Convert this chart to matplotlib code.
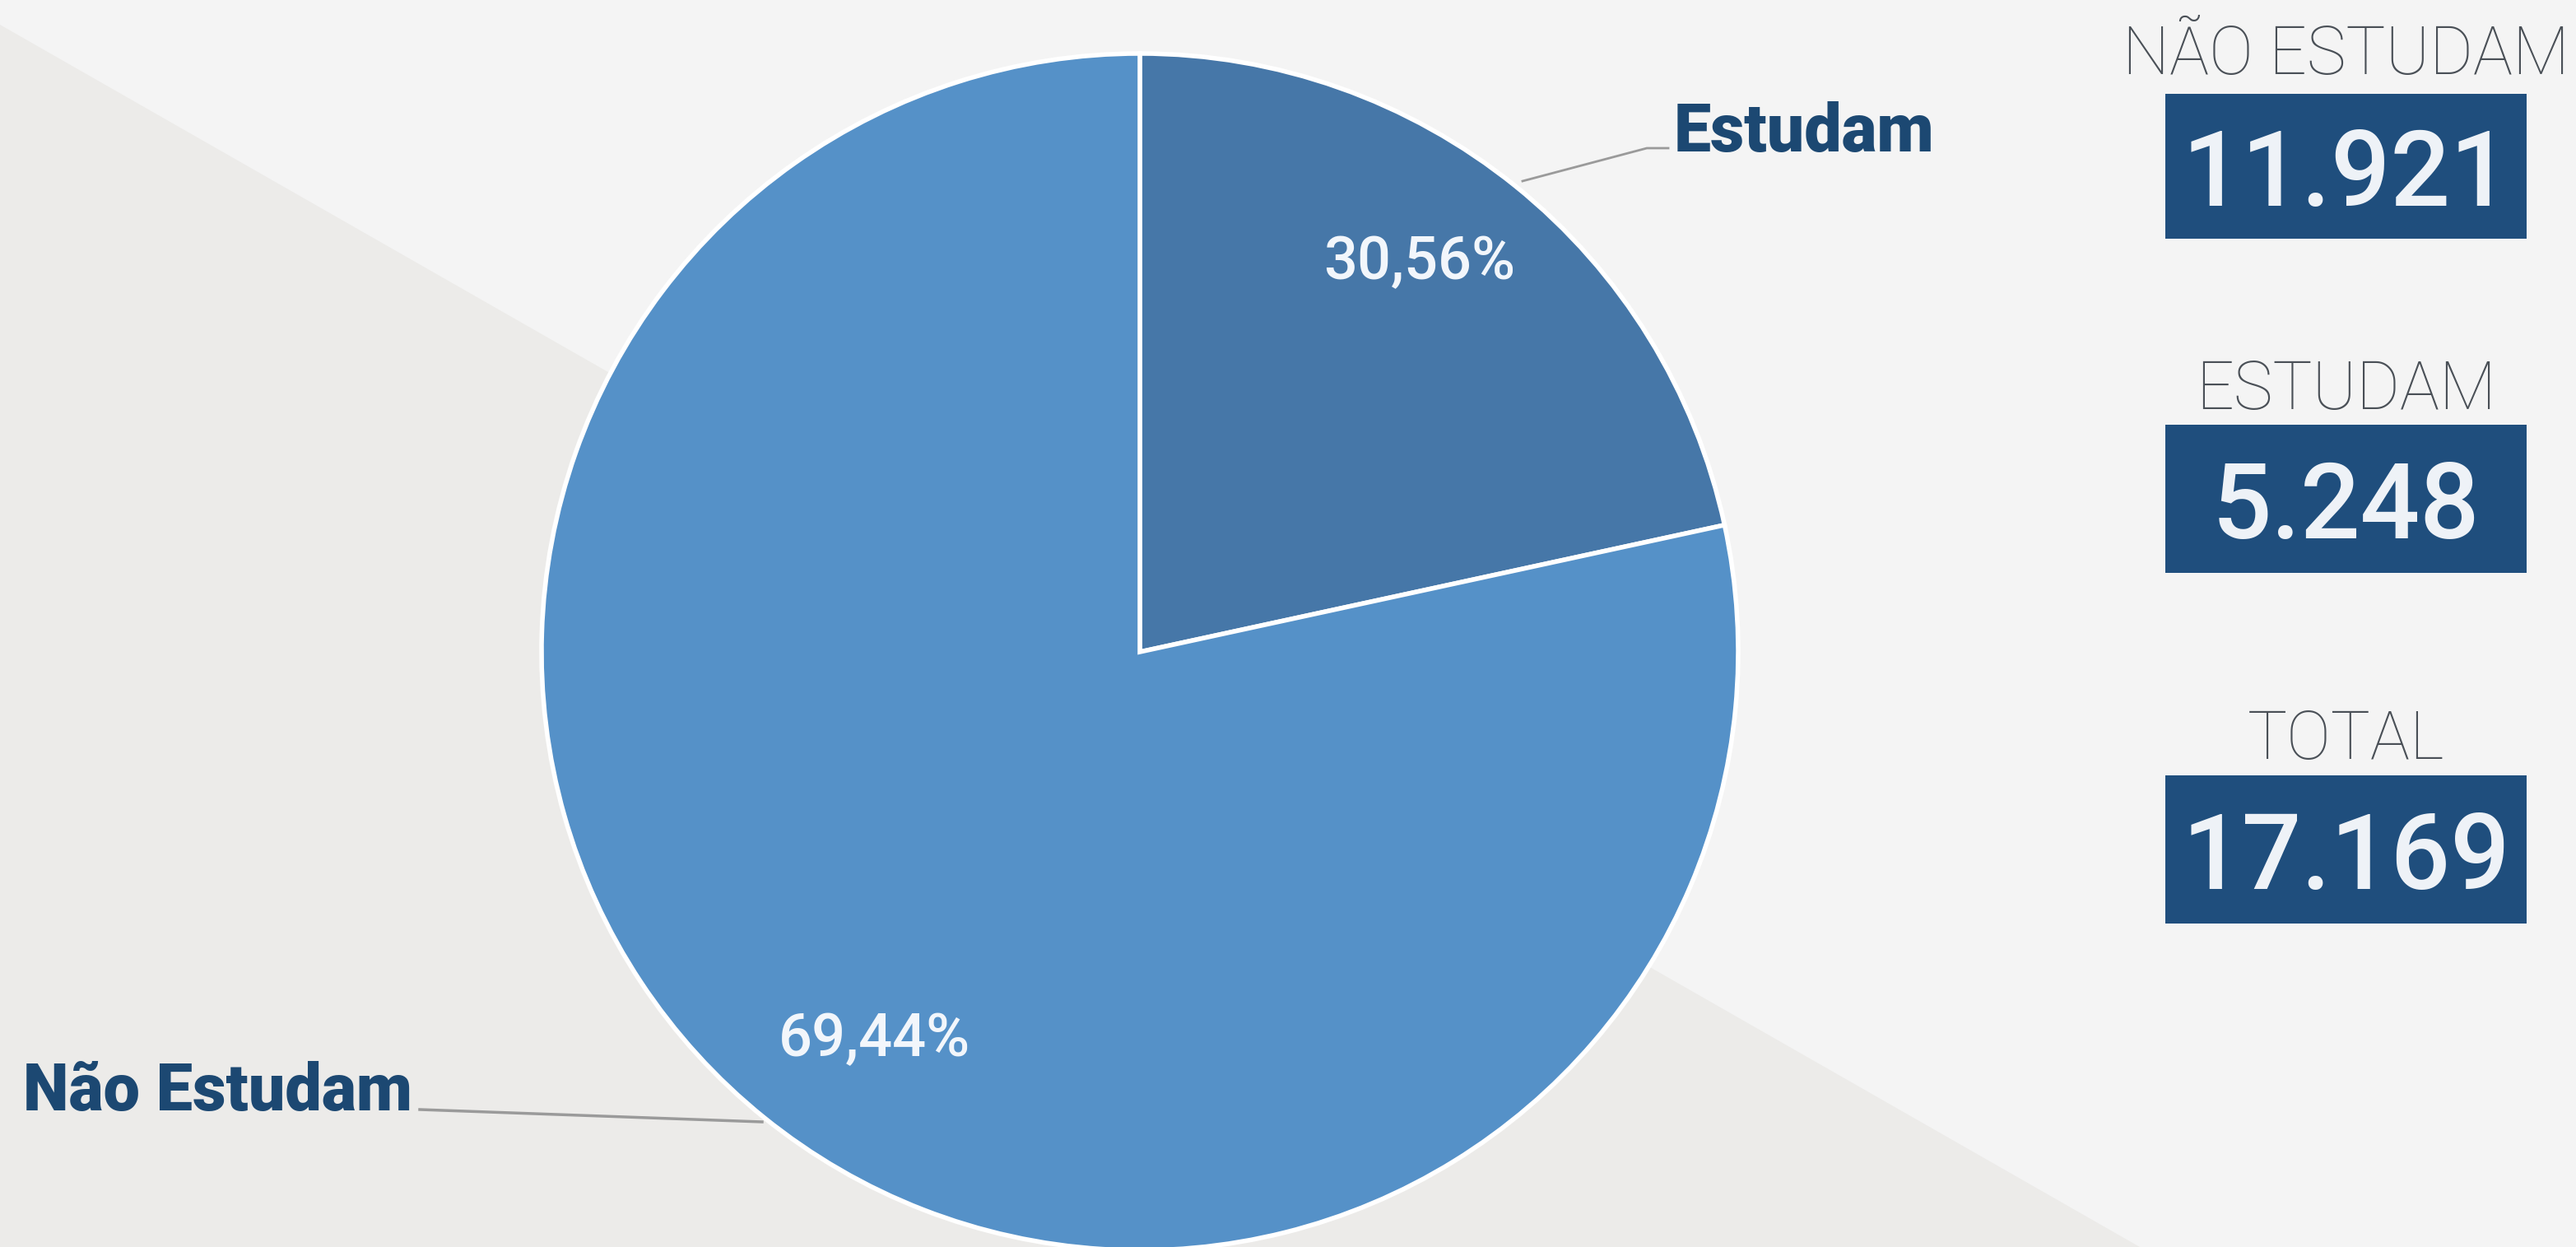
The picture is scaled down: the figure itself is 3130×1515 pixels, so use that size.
import matplotlib
matplotlib.use('Agg')
import matplotlib.pyplot as plt
from matplotlib.patches import Polygon, Rectangle

# dados
categorias = ['Estudam', 'Não Estudam']
totais = [5248, 11921]
rotulos_pct = ['30,56%', '69,44%']
# tamanho das fatias como aparecem desenhadas no original
fatias = [21.6, 78.4]
cores = ['#4677a8', '#5591c8']

cards_titulo = ['NÃO ESTUDAM', 'ESTUDAM', 'TOTAL']
cards_valor = [totais[1], totais[0], sum(totais)]

W, H = 3130, 1515
fig = plt.figure(figsize=(W / 100, H / 100), dpi=100, facecolor='#f4f4f4')
ax = fig.add_axes([0, 0, 1, 1])

# fundo: triangulo mais escuro no canto inferior esquerdo
ax.add_patch(Polygon([(0, 0), (0, H - 30), (2600, 0)], closed=True,
                     facecolor='#ecebe9', edgecolor='none', zorder=0))

cx, cy, r = 1385, H - 792, 727
wedges, _ = ax.pie(fatias, colors=cores, startangle=90, counterclock=False,
                   center=(cx, cy), radius=r, frame=True,
                   wedgeprops=dict(edgecolor='white', linewidth=4))
for w in wedges:
    w.set_zorder(2)

fnt = ['Roboto', 'DejaVu Sans']
ax.text(1725, H - 320, rotulos_pct[0], color='#f2f6fb', fontsize=52,
        fontweight='medium', family=fnt, ha='center', va='center', zorder=3)
ax.text(1062, H - 1264, rotulos_pct[1], color='#f2f6fb', fontsize=52,
        fontweight='medium', family=fnt, ha='center', va='center', zorder=3)

# rotulos externos com linhas de chamada
navy = '#1c4872'
ax.plot([1850, 2001, 2027], [H - 220, H - 180, H - 180], color='#9a9a9a', lw=2, zorder=1)
ax.text(2034, H - 162, categorias[0], color=navy, fontsize=58, fontweight='black',
        family=fnt, ha='left', va='center', zorder=3)
ax.plot([510, 926], [H - 1348, H - 1363], color='#9a9a9a', lw=2.5, zorder=1)
ax.text(28, H - 1327, categorias[1], color=navy, fontsize=57, fontweight='black',
        family=fnt, ha='left', va='center', zorder=3)

# cartoes a direita
box_x0, box_x1 = 2631, 3070
box_y = [(114, 290), (516, 696), (942, 1122)]
tit_y = [68, 475, 900]
for titulo, valor, (y0, y1), ty in zip(cards_titulo, cards_valor, box_y, tit_y):
    ax.text((box_x0 + box_x1) / 2, H - ty, titulo, color='#4a5057', fontsize=58,
            fontweight='light', family=fnt, ha='center', va='center')
    ax.add_patch(Rectangle((box_x0, H - y1), box_x1 - box_x0, y1 - y0,
                           facecolor='#1f4e7d', edgecolor='none'))
    txt = f'{valor:,}'.replace(',', '.')
    ax.text((box_x0 + box_x1) / 2, H - (y0 + y1) / 2, txt, color='#eef2f7',
            fontsize=92, fontweight='medium', family=fnt,
            ha='center', va='center_baseline')

ax.set_xlim(0, W)
ax.set_ylim(0, H)
ax.set_aspect('equal')
ax.axis('off')

fig.savefig('out.png', dpi=100, facecolor=fig.get_facecolor())
